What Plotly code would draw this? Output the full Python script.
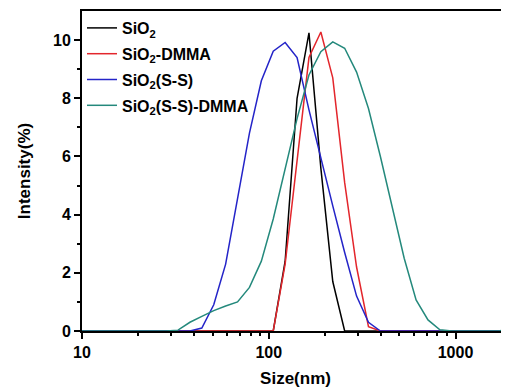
import plotly.graph_objects as go

# Size bins (nm) (log-spaced DLS classes)
sizes = [8.721, 10.10, 11.70, 13.54, 15.69, 18.17, 21.04, 24.36, 28.21, 32.67,
         37.84, 43.82, 50.75, 58.77, 68.06, 78.82, 91.28, 105.7, 122.4, 141.8,
         164.2, 190.1, 220.2, 255.0, 295.3, 342.0, 396.1, 458.7, 531.2, 615.1,
         712.4, 825.0, 955.4, 1106, 1281, 1484, 1718, 1990, 2305]

sio2 = [0, 0, 0, 0, 0, 0, 0, 0, 0, 0,
        0, 0, 0, 0, 0, 0, 0, 0, 2.4, 8.0,
        10.25, 5.6, 1.7, 0, 0, 0, 0, 0, 0, 0,
        0, 0, 0, 0, 0, 0, 0, 0, 0]

sio2_dmma = [0, 0, 0, 0, 0, 0, 0, 0, 0, 0,
             0, 0, 0, 0, 0, 0, 0, 0, 2.3, 5.9,
             9.4, 10.28, 8.7, 5.1, 2.2, 0.15, 0, 0, 0, 0,
             0, 0, 0, 0, 0, 0, 0, 0, 0]

sio2_ss = [0, 0, 0, 0, 0, 0, 0, 0, 0, 0,
           0, 0.1, 0.9, 2.3, 4.5, 6.8, 8.6, 9.62, 9.92, 9.4,
           7.6, 5.9, 4.3, 2.7, 1.2, 0.3, 0, 0, 0, 0,
           0, 0, 0, 0, 0, 0, 0, 0, 0]

sio2_ss_dmma = [0, 0, 0, 0, 0, 0, 0, 0, 0, 0.03,
                0.3, 0.5, 0.7, 0.86, 1.0, 1.5, 2.4, 3.85, 5.6, 7.3,
                8.8, 9.6, 9.94, 9.72, 8.9, 7.65, 6.0, 4.2, 2.5, 1.07,
                0.38, 0.04, 0, 0, 0, 0, 0, 0.1, 0.3]

names = ["SiO<sub>2</sub>", "SiO<sub>2</sub>-DMMA", "SiO<sub>2</sub>(S-S)",
         "SiO<sub>2</sub>(S-S)-DMMA"]
series = [sio2, sio2_dmma, sio2_ss, sio2_ss_dmma]
colors = ["#000000", "#e3262c", "#2424c8", "#24897c"]

x_ticks = [10, 100, 1000]
x_minor = [20, 30, 40, 50, 60, 70, 80, 90, 200, 300, 400, 500, 600, 700, 800, 900, 2000]
y_ticks = [0, 2, 4, 6, 8, 10]
y_minor = [1, 3, 5, 7, 9]

FONT = "Liberation Sans, Arial, sans-serif"

fig = go.Figure()
for i, (n, s, c) in enumerate(zip(names, series, colors)):
    fig.add_trace(go.Scatter(x=sizes, y=s, mode="lines", name=n,
                             legendgroup=f"g{i}",
                             line=dict(color=c, width=1.5)))

# page body has an 8px margin, so the figure is 8px smaller than the window
fig.update_layout(
    width=501, height=382,
    margin=dict(l=74, r=0, t=3, b=59),
    paper_bgcolor="white", plot_bgcolor="white",
    font=dict(family=FONT, size=16, color="black", weight="bold"),
    showlegend=True,
    legend=dict(x=0.0, y=1.0, xanchor="left", yanchor="top",
                bgcolor="rgba(0,0,0,0)", borderwidth=0,
                font=dict(family=FONT, size=16, color="black", weight="bold"),
                tracegroupgap=2),
)

fig.update_xaxes(
    type="log", range=[1, 3.2865],
    tickmode="array", tickvals=x_ticks, ticktext=[str(v) for v in x_ticks],
    ticks="outside", ticklen=6, tickwidth=1.5, tickcolor="black",
    minor=dict(tickmode="array", tickvals=x_minor, ticks="outside",
               ticklen=3, tickwidth=1.5, tickcolor="black", showgrid=False),
    showline=True, linecolor="black", linewidth=1.8, mirror=True,
    showgrid=False, zeroline=False,
    tickfont=dict(family=FONT, size=16, color="black", weight="bold"),
    title=dict(text="Size(nm)", standoff=12,
               font=dict(family=FONT, size=17, color="black", weight="bold")),
)
fig.update_yaxes(
    range=[0, 11],
    tickmode="array", tickvals=y_ticks, ticktext=[str(v) for v in y_ticks],
    ticks="outside", ticklen=6, tickwidth=1.5, tickcolor="black",
    minor=dict(tickmode="array", tickvals=y_minor, ticks="outside",
               ticklen=3, tickwidth=1.5, tickcolor="black", showgrid=False),
    showline=True, linecolor="black", linewidth=1.8, mirror=False,
    showgrid=False, zeroline=False,
    tickfont=dict(family=FONT, size=16, color="black", weight="bold"),
    title=dict(text="Intensity(%)", standoff=18,
               font=dict(family=FONT, size=17, color="black", weight="bold")),
)

fig.write_html("out.html")
